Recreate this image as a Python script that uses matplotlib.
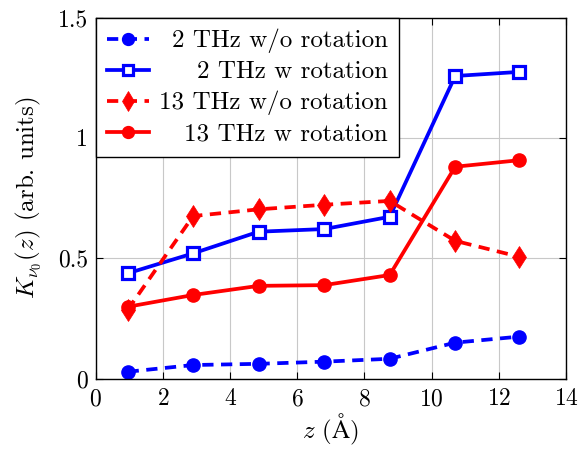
import matplotlib
matplotlib.use("Agg")
import matplotlib.pyplot as plt

plt.rcParams['font.family'] = 'serif'
plt.rcParams['font.serif'] = ['cmr10']
plt.rcParams['mathtext.fontset'] = 'cm'
plt.rcParams['axes.formatter.use_mathtext'] = True

z = [0.95, 2.9, 4.85, 6.8, 8.75, 10.7, 12.6]
k_2thz_norot = [0.028, 0.056, 0.061, 0.070, 0.082, 0.149, 0.174]
k_2thz_rot = [0.437, 0.520, 0.610, 0.621, 0.672, 1.257, 1.274]
k_13thz_norot = [0.285, 0.675, 0.703, 0.722, 0.738, 0.572, 0.506]
k_13thz_rot = [0.298, 0.347, 0.385, 0.388, 0.430, 0.880, 0.907]

blue = (0, 0, 1)
red = (1, 0, 0)

fig = plt.figure(figsize=(5.8, 4.49), dpi=100)
ax = fig.add_axes([0.165, 0.157, 0.811, 0.804])

lw = 2.7
ax.plot(z, k_2thz_norot, color=blue, lw=lw, dashes=(3, 2), marker='o', ms=9.5,
        label='2 THz w/o rotation')
ax.plot(z, k_2thz_rot, color=blue, lw=lw, marker='s', ms=8, mfc='white', mew=2.3,
        label='2 THz w rotation')
ax.plot(z, k_13thz_norot, color=red, lw=lw, dashes=(3, 2), marker='d', ms=11.5, mew=0.5,
        label='13 THz w/o rotation')
ax.plot(z, k_13thz_rot, color=red, lw=lw, marker='o', ms=9.5,
        label='13 THz w rotation')

ax.set_xlim(0, 14)
ax.set_ylim(0, 1.5)
ax.set_xticks(range(0, 15, 2))
ax.set_yticks([0, 0.5, 1, 1.5])
ax.set_yticklabels(['0', '0.5', '1', '1.5'])
ax.grid(True, color='#c8c8c8', lw=0.8)
ax.set_axisbelow(True)
ax.tick_params(direction='in', top=True, right=True, length=5, labelsize=17)
ax.tick_params(axis='x', pad=7)
ax.tick_params(axis='y', pad=5.5)
for s in ax.spines.values():
    s.set_linewidth(1.0)

ax.set_xlabel(r'$z$ ($\mathrm{\AA}$)', fontsize=18, labelpad=1)
ax.set_ylabel(r'$K_{\nu_0}(z)$ (arb. units)', fontsize=18, labelpad=11)

leg = ax.legend(loc='upper left', fontsize=18, frameon=True, fancybox=False,
                edgecolor='black', framealpha=1, borderaxespad=0,
                handlelength=1.7, handletextpad=0.4, labelspacing=0.3,
                borderpad=0.45, markerscale=0.9)
leg.get_frame().set_linewidth(1.0)

# right-align legend labels like pgfplots
fig.canvas.draw()
r = fig.canvas.get_renderer()
texts = leg.get_texts()
widths = [t.get_window_extent(r).width for t in texts]
wmax = max(widths)
for t, w in zip(texts, widths):
    t.set_x(wmax - w)

fig.savefig('out.png', dpi=100)
